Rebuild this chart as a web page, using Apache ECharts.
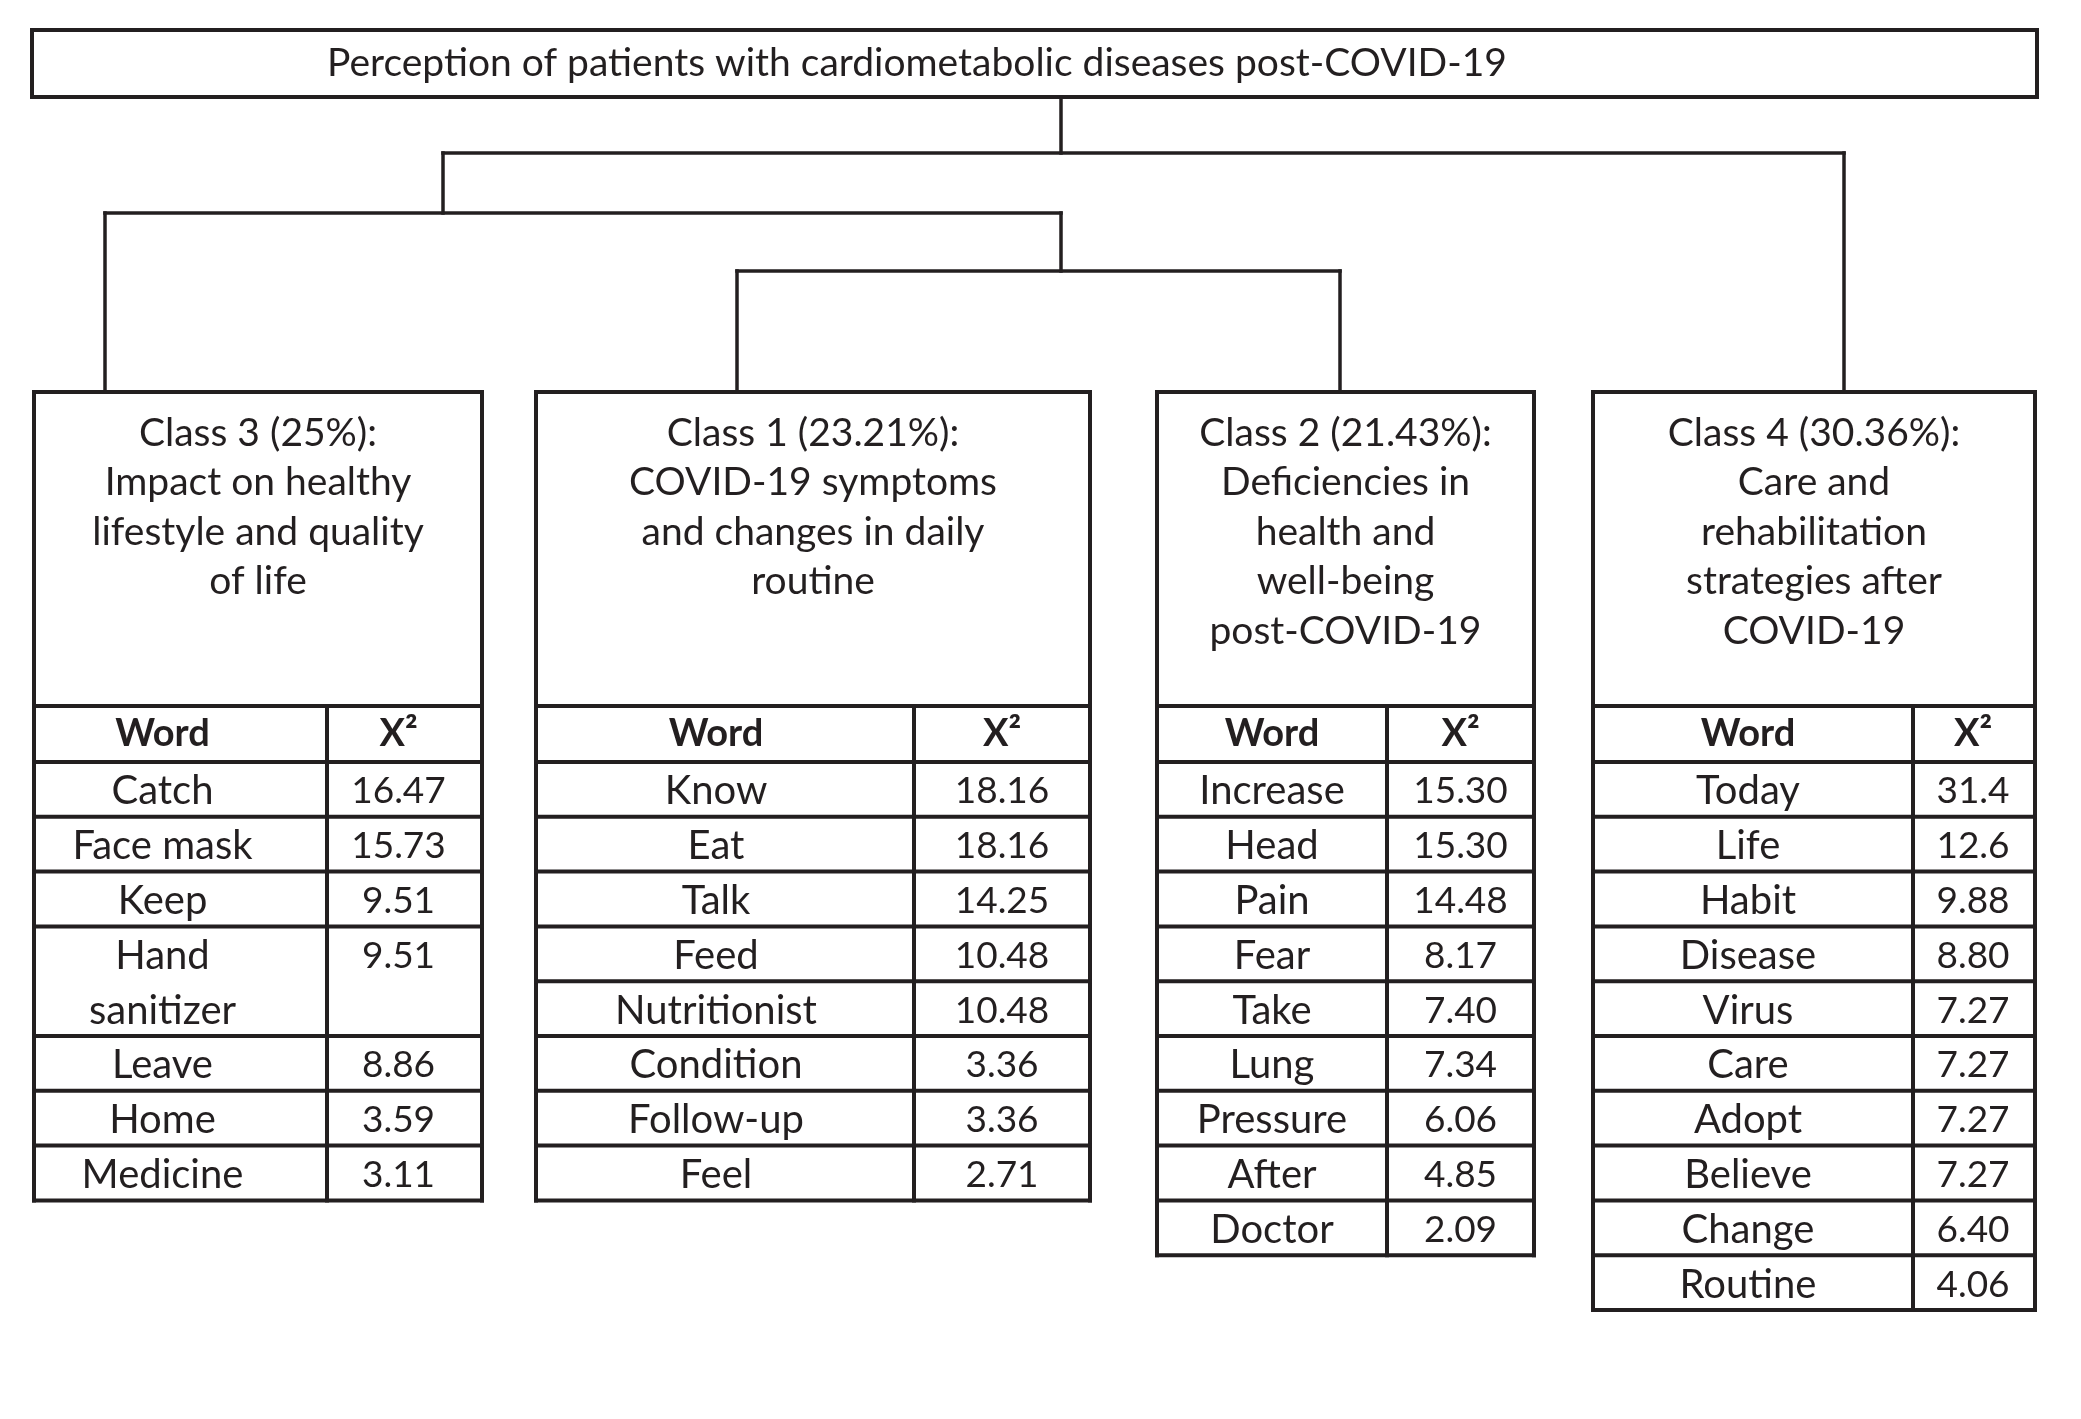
<!DOCTYPE html>
<html>
<head>
<meta charset="utf-8">
<script src="https://cdn.jsdelivr.net/npm/echarts@6/dist/echarts.min.js"></script>
<style>
html,body{margin:0;padding:0;background:#fff;}
#chart{width:2081px;height:1419px;}
</style>
</head>
<body>
<div id="chart"></div>
<script>
// ---------- DATA ----------
const chartTitle = 'Perception of patients with cardiometabolic diseases post-COVID-19';
const classOrder = ['Class 3', 'Class 1', 'Class 2', 'Class 4'];
const classHeaders = [
  ['Class 3 (25%):', 'Impact on healthy', 'lifestyle and quality', 'of life'],
  ['Class 1 (23.21%):', 'COVID-19 symptoms', 'and changes in daily', 'routine'],
  ['Class 2 (21.43%):', 'Deficiencies in', 'health and', 'well-being', 'post-COVID-19'],
  ['Class 4 (30.36%):', 'Care and', 'rehabilitation', 'strategies after', 'COVID-19']
];
const columnHeaders = ['Word', 'X\u00B2'];
const class3Words = ['Catch', 'Face mask', 'Keep', 'Hand\nsanitizer', 'Leave', 'Home', 'Medicine'];
const class3Chi2  = ['16.47', '15.73', '9.51', '9.51', '8.86', '3.59', '3.11'];
const class1Words = ['Know', 'Eat', 'Talk', 'Feed', 'Nutritionist', 'Condition', 'Follow-up', 'Feel'];
const class1Chi2  = ['18.16', '18.16', '14.25', '10.48', '10.48', '3.36', '3.36', '2.71'];
const class2Words = ['Increase', 'Head', 'Pain', 'Fear', 'Take', 'Lung', 'Pressure', 'After', 'Doctor'];
const class2Chi2  = ['15.30', '15.30', '14.48', '8.17', '7.40', '7.34', '6.06', '4.85', '2.09'];
const class4Words = ['Today', 'Life', 'Habit', 'Disease', 'Virus', 'Care', 'Adopt', 'Believe', 'Change', 'Routine'];
const class4Chi2  = ['31.4', '12.6', '9.88', '8.80', '7.27', '7.27', '7.27', '7.27', '6.40', '4.06'];
// dendrogram topology: ((Class 3, (Class 1, Class 2)), Class 4) -> indices into classOrder
const dendrogram = {children: [{children: [{leaf: 0}, {children: [{leaf: 1}, {leaf: 2}]}]}, {leaf: 3}]};

// ---------- LAYOUT / STYLE ----------
const W = 2081, H = 1419;
const INK = '#231f20';
const FONT = 'Lato, "Open Sans", sans-serif';
const FS = {title: 39, head: 39, colHead: 38, word: 40, num: 37};
const L = {
  titleBox: [32, 30, 2037, 97], titleCx: 917,
  boxTop: 392, headerBottom: 706, tableHeadBottom: 762, rowH: 54.8,
  boxes: [
    {x0: 34, xd: 327, x1: 482, wordDx: -18, valDx: -6},
    {x0: 536, xd: 914, x1: 1090, wordDx: -9, valDx: 0},
    {x0: 1157, xd: 1387, x1: 1534, wordDx: 0, valDx: 0},
    {x0: 1593, xd: 1913, x1: 2035, wordDx: -5, valDx: -1}
  ],
  headFirst: 433, headLineH: 49.5, rowDy: 2,
  // dendrogram drawing positions
  nodeX: [1061, 443, 1061], nodeBarY: [153, 213, 271],
  leafX: [105, 737, 1340, 1844],
  boxLW: 4, treeLW: 3.5
};
const wordsByClass = [class3Words, class1Words, class2Words, class4Words];
const chiByClass = [class3Chi2, class1Chi2, class2Chi2, class4Chi2];

// ---------- BUILD ELEMENTS ----------
const segs = [];   // {p:[x0,y0,x1,y1], w}
const texts = [];  // {x,y,t,bold,fs}
function seg(x0, y0, x1, y1, w) { segs.push({p: [x0, y0, x1, y1], w: w}); }

// title box
const tb = L.titleBox;
seg(tb[0], tb[1], tb[2], tb[1], L.boxLW); seg(tb[0], tb[3], tb[2], tb[3], L.boxLW);
seg(tb[0], tb[1], tb[0], tb[3], L.boxLW); seg(tb[2], tb[1], tb[2], tb[3], L.boxLW);
texts.push({x: L.titleCx, y: (tb[1] + tb[3]) / 2, t: chartTitle, fs: FS.title});

// dendrogram
let nodeCounter = 0;
function drawNode(node, topY) {
  if (node.leaf !== undefined) {
    const x = L.leafX[node.leaf];
    seg(x, topY, x, L.boxTop, L.treeLW);
    return x;
  }
  const id = nodeCounter++;
  const x = L.nodeX[id], by = L.nodeBarY[id];
  seg(x, topY, x, by, L.treeLW);
  const xs = node.children.map(c => drawNode(c, by));
  seg(Math.min.apply(null, xs), by, Math.max.apply(null, xs), by, L.treeLW);
  return x;
}
drawNode(dendrogram, tb[3]);

// class boxes
classOrder.forEach((cls, ci) => {
  const b = L.boxes[ci];
  const words = wordsByClass[ci], chis = chiByClass[ci];
  const cx = (b.x0 + b.x1) / 2;
  classHeaders[ci].forEach((line, li) => texts.push({x: cx, y: L.headFirst + li * L.headLineH, t: line, fs: FS.head}));
  const wx = (b.x0 + b.xd) / 2 + b.wordDx, vx = (b.xd + b.x1) / 2 + b.valDx;
  texts.push({x: wx, y: (L.headerBottom + L.tableHeadBottom) / 2, t: columnHeaders[0], bold: true, fs: FS.colHead});
  texts.push({x: vx, y: (L.headerBottom + L.tableHeadBottom) / 2, t: columnHeaders[1], bold: true, fs: FS.colHead});
  let y = L.tableHeadBottom;
  const rowLines = [L.headerBottom, L.tableHeadBottom];
  words.forEach((w, i) => {
    const parts = w.split('\n');
    parts.forEach((p, k) => texts.push({x: wx, y: y + (k + 0.5) * L.rowH + L.rowDy, t: p, fs: FS.word}));
    texts.push({x: vx, y: y + 0.5 * L.rowH + L.rowDy, t: chis[i], fs: FS.num});
    y += parts.length * L.rowH;
    rowLines.push(y);
  });
  const bottom = y;
  seg(b.x0, L.boxTop, b.x1, L.boxTop, L.boxLW);
  seg(b.x0, L.boxTop, b.x0, bottom, L.boxLW);
  seg(b.x1, L.boxTop, b.x1, bottom, L.boxLW);
  seg(b.xd, L.headerBottom, b.xd, bottom, L.boxLW);
  rowLines.forEach(ry => seg(b.x0, ry, b.x1, ry, L.boxLW));
});

// ---------- CHART ----------
const chart = echarts.init(document.getElementById('chart'), null, {renderer: 'canvas'});
chart.setOption({
  animation: false,
  backgroundColor: '#fff',
  grid: {left: 0, right: 0, top: 0, bottom: 0},
  xAxis: {type: 'value', min: 0, max: W, show: false},
  yAxis: {type: 'value', min: 0, max: H, inverse: true, show: false},
  series: [
    {
      type: 'custom', coordinateSystem: 'cartesian2d', silent: true,
      data: segs.map(s => s.p),
      renderItem: function (params, api) {
        const s = segs[params.dataIndex];
        const a = api.coord([s.p[0], s.p[1]]), c = api.coord([s.p[2], s.p[3]]);
        return {type: 'line', shape: {x1: a[0], y1: a[1], x2: c[0], y2: c[1]},
          style: {stroke: INK, lineWidth: s.w, lineCap: 'square'}};
      }
    },
    {
      type: 'custom', coordinateSystem: 'cartesian2d', silent: true,
      data: texts.map(t => [t.x, t.y]),
      renderItem: function (params, api) {
        const t = texts[params.dataIndex];
        const p = api.coord([t.x, t.y]);
        return {type: 'text', x: p[0], y: p[1],
          style: {text: t.t, fill: INK, fontSize: t.fs, fontFamily: FONT,
            fontWeight: t.bold ? 'bold' : 'normal', align: 'center', verticalAlign: 'middle'}};
      }
    }
  ]
});
</script>
</body>
</html>
